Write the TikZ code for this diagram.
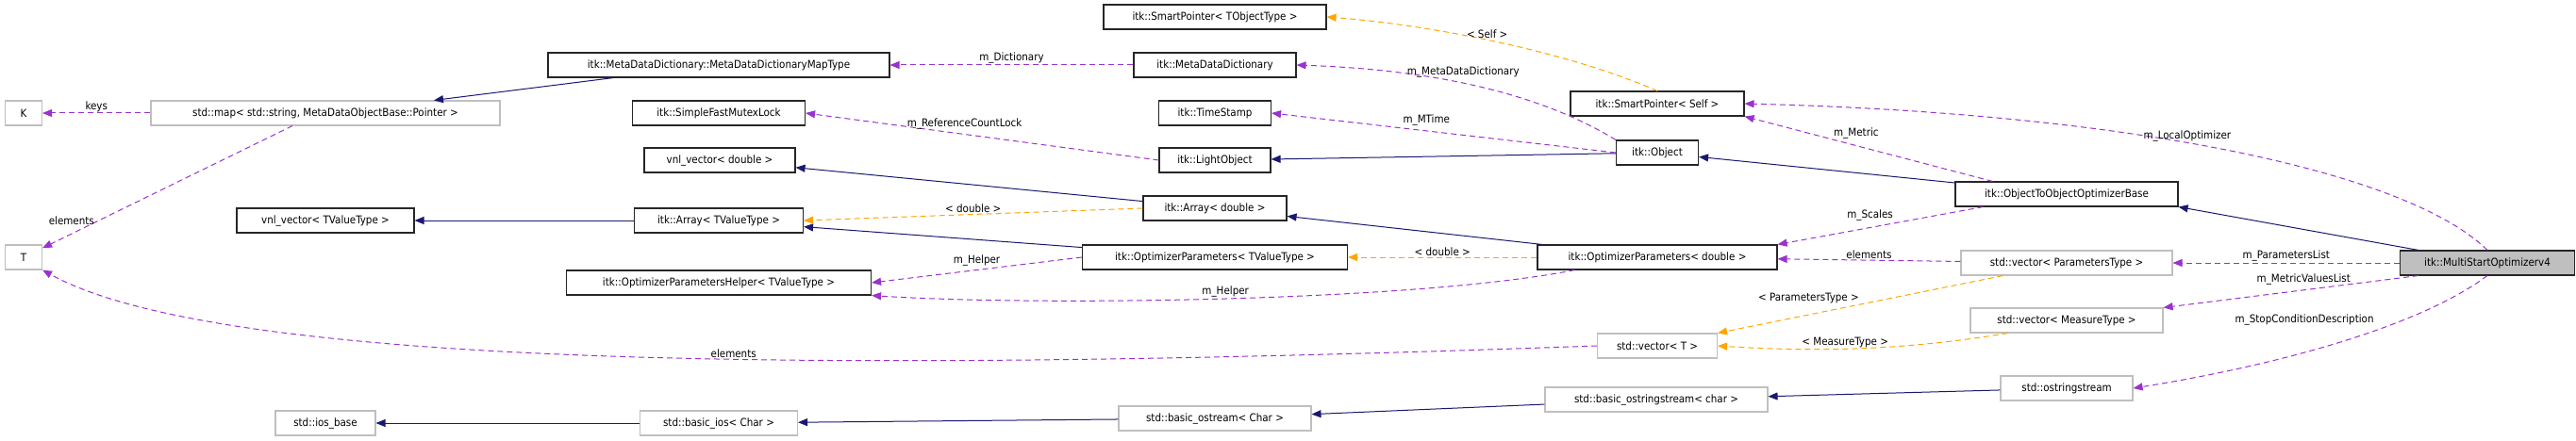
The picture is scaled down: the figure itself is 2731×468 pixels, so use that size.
\documentclass[tikz,border=0pt]{standalone}
\usepackage{fontspec}
\setmainfont{DejaVu Sans Condensed}
\usetikzlibrary{arrows.meta}
\definecolor{navy}{HTML}{191970}
\definecolor{purp}{HTML}{9A32CD}
\definecolor{orng}{HTML}{FFA500}
\begin{document}
\begin{tikzpicture}[x=1pt,y=-1pt,
  every node/.style={font=\fontsize{11.5}{13}\selectfont},
  doc/.style={draw=black!85,line width=1.1pt,inner sep=0pt,minimum height=26pt},
  und/.style={draw=black!25,line width=1.1pt,inner sep=0pt,minimum height=26pt},
  cur/.style={doc,fill=black!25},
  tip/.style={-{Triangle[length=10pt,width=8pt]}},
  inh/.style={tip,draw=navy,line width=1pt},
  use/.style={tip,draw=purp,line width=1pt,dash pattern=on 6pt off 4pt},
  tpl/.style={tip,draw=orng,line width=1pt,dash pattern=on 6pt off 4pt},
  lbl/.style={inner sep=1pt}]
\useasboundingbox (0,0) rectangle (2731,468);
% nodes
\node[und,minimum width=39pt] (K) at (25,120) {K};
\node[und,minimum width=39pt] (T) at (25,273) {T};
\node[und,minimum width=370pt] (map) at (345,120) {std::map< std::string, MetaDataObjectBase::Pointer >};
\node[doc,minimum width=362pt] (mddm) at (762,69) {itk::MetaDataDictionary::MetaDataDictionaryMapType};
\node[doc,minimum width=183pt] (mutex) at (762,120) {itk::SimpleFastMutexLock};
\node[doc,minimum width=160pt] (vnld) at (763,170) {vnl\_vector< double >};
\node[doc,minimum width=188pt] (vnlt) at (345,234) {vnl\_vector< TValueType >};
\node[doc,minimum width=179pt] (arrt) at (762,234) {itk::Array< TValueType >};
\node[doc,minimum width=323pt] (help) at (762,300) {itk::OptimizerParametersHelper< TValueType >};
\node[und,minimum width=106pt] (iosb) at (345,449) {std::ios\_base};
\node[und,minimum width=167pt] (bios) at (762,449) {std::basic\_ios< Char >};
\node[doc,minimum width=236pt] (spt) at (1288,18) {itk::SmartPointer< TObjectType >};
\node[doc,minimum width=172pt] (mdd) at (1288,69) {itk::MetaDataDictionary};
\node[doc,minimum width=119pt] (ts) at (1288,120) {itk::TimeStamp};
\node[doc,minimum width=118pt] (lo) at (1288,170) {itk::LightObject};
\node[doc,minimum width=152pt] (arrd) at (1288,221) {itk::Array< double >};
\node[doc,minimum width=281pt] (opt) at (1288,273) {itk::OptimizerParameters< TValueType >};
\node[und,minimum width=204pt] (bost) at (1288,444) {std::basic\_ostream< Char >};
\node[doc,minimum width=184pt] (sps) at (1757,110) {itk::SmartPointer< Self >};
\node[doc,minimum width=87pt] (obj) at (1757,162) {itk::Object};
\node[doc,minimum width=254pt] (opd) at (1757,273) {itk::OptimizerParameters< double >};
\node[und,minimum width=127pt] (vect) at (1757,367) {std::vector< T >};
\node[und,minimum width=236pt] (boss) at (1756,424) {std::basic\_ostringstream< char >};
\node[doc,minimum width=236pt] (o2o) at (2191,206) {itk::ObjectToObjectOptimizerBase};
\node[und,minimum width=224pt] (vecp) at (2191,279) {std::vector< ParametersType >};
\node[und,minimum width=204pt] (vecm) at (2191,340) {std::vector< MeasureType >};
\node[und,minimum width=140pt] (oss) at (2191,412) {std::ostringstream};
\node[cur,minimum width=185pt] (ms) at (2637,279) {itk::MultiStartOptimizerv4};
% helper coordinates on node borders
\path (mddm.south west) ++(70,0) coordinate (a1);
\path (map.north) ++(115,0) coordinate (m1);
\path (map.south) ++(-35,0) coordinate (a2);
\path (opd.south west) ++(40,0) coordinate (a3);
\path (o2o.north west) ++(40,0) coordinate (a4);
\path (o2o.south west) ++(30,0) coordinate (a5);
\path (ms.south west) ++(20,0) coordinate (a6);
\path (vecp.south west) ++(45,0) coordinate (a7);
\path (vecm.south west) ++(40,0) coordinate (a8);
\path (ms.north west) ++(20,0) coordinate (a9);
% inheritance
\draw[inh] (a1) -- (m1);
\draw[inh] (arrt) -- (vnlt);
\draw[inh] (arrd) -- (vnld);
\draw[inh] (opt) -- (arrt);
\draw[inh] (opd) -- (arrd);
\draw[inh] (obj) -- (lo);
\draw[inh] (o2o) -- (obj);
\draw[inh] (a9) -- (o2o.south east);
\draw[inh] (bios) -- (iosb);
\draw[inh] (bost) -- (bios);
\draw[inh] (boss) -- (bost);
\draw[inh] (oss) -- (boss);
% usage
\draw[use] (map) -- node[lbl,above]{keys} (K);
\draw[use] (a2) -- node[lbl,pos=0.78,left=2pt]{elements} (T);
\draw[use] (vect.west) .. controls (1000,392) and (250,400) .. node[lbl,pos=0.45,above]{elements} (T.south east);
\draw[use] (mdd) -- node[lbl,above]{m\_Dictionary} (mddm);
\draw[use] (obj.north west) .. controls (1650,110) and (1550,75) .. node[lbl,pos=0.6,above=5pt]{m\_MetaDataDictionary} (mdd.east);
\draw[use] (obj.west) -- node[lbl,pos=0.55,above=4pt]{m\_MTime} (ts.east);
\draw[use] (lo.west) -- node[lbl,pos=0.55,above=4pt]{m\_ReferenceCountLock} (mutex.east);
\draw[use] (opt.west) -- node[lbl,pos=0.5,above=3pt]{m\_Helper} (help.east);
\draw[use] (a3) .. controls (1500,320) and (1100,325) .. node[lbl,pos=0.5,above]{m\_Helper} (help.south east);
\draw[use] (a4) -- node[lbl,pos=0.55,above=6pt]{m\_Metric} (sps.south east);
\draw[use] (a5) -- node[lbl,pos=0.55,above=6pt]{m\_Scales} (opd.north east);
\draw[use] (ms.north) .. controls (2550,180) and (2250,120) .. node[lbl,pos=0.55,above]{m\_LocalOptimizer} (sps.east);
\draw[use] (vecp) -- node[lbl,above]{elements} (opd);
\draw[use] (ms) -- node[lbl,above]{m\_ParametersList} (vecp);
\draw[use] (a6) -- node[lbl,pos=0.45,above=4pt]{m\_MetricValuesList} (vecm.north east);
\draw[use] (ms.south) .. controls (2560,350) and (2400,390) .. node[lbl,pos=0.3,left=30pt]{m\_StopConditionDescription} (oss.east);
% templates
\draw[tpl] (sps.north) .. controls (1650,50) and (1500,25) .. node[lbl,pos=0.5,above]{< Self >} (spt.east);
\draw[tpl] (arrd.west) -- node[lbl,above]{< double >} (arrt.east);
\draw[tpl] (opd) -- node[lbl,above]{< double >} (opt);
\draw[tpl] (a7) -- node[lbl,pos=0.5,above left]{< ParametersType >} (vect.north east);
\draw[tpl] (a8) .. controls (2000,375) and (1900,372) .. node[lbl,pos=0.5,above]{< MeasureType >} (vect.east);
\end{tikzpicture}
\end{document}
